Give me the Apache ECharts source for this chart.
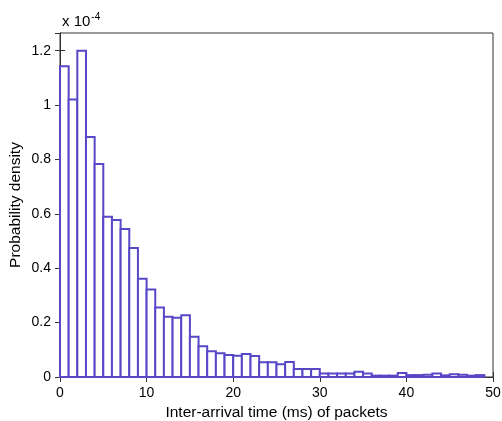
<!DOCTYPE html>
<html>
<head>
<meta charset="utf-8">
<script src="https://cdn.jsdelivr.net/npm/echarts@6/dist/echarts.min.js"></script>
<style>
  html, body { margin: 0; padding: 0; background: #fff; }
  #chart { width: 502px; height: 421px; }
</style>
</head>
<body>
<div id="chart"></div>
<script>
// bin edges (ms), one bin per 1 ms
const binStart = [0,1,2,3,4,5,6,7,8,9,10,11,12,13,14,15,16,17,18,19,20,21,22,23,24,
  25,26,27,28,29,30,31,32,33,34,35,36,37,38,39,40,41,42,43,44,45,46,47,48];
const binWidth = 1;
// probability density, in units of 1e-4
const density = [1.143, 1.02, 1.20, 0.883, 0.783, 0.589, 0.577, 0.544, 0.474, 0.361,
  0.322, 0.256, 0.222, 0.218, 0.227, 0.148, 0.113, 0.095, 0.087, 0.081,
  0.078, 0.085, 0.077, 0.054, 0.054, 0.047, 0.055, 0.029, 0.029, 0.029,
  0.013, 0.013, 0.013, 0.013, 0.019, 0.013, 0.005, 0.005, 0.005, 0.015,
  0.007, 0.007, 0.008, 0.013, 0.006, 0.010, 0.008, 0.005, 0.007];
const yTicks = [0, 0.2, 0.4, 0.6, 0.8, 1, 1.2];
const xTicks = [0, 10, 20, 30, 40, 50];

const barColor = "#5848c8";
const axisColor = "#333";
const font = "Liberation Sans, Arial, sans-serif";

const histData = binStart.map((s, i) => [s, s + binWidth, density[i]]);

// only label the round ticks, not the axis max
function yLabel(v) {
  const r = Math.round(v * 10) / 10;
  if (Math.abs(v - r) > 1e-6 || yTicks.indexOf(r) < 0) return "";
  return String(r);
}

const options = {
  animation: false,
  textStyle: { fontFamily: font },
  grid: {
    left: 60,
    right: 9,
    top: 33,
    bottom: 44,
    outerBoundsMode: "none",
    containLabel: false,
    show: true,
    borderColor: axisColor,
    borderWidth: 1
  },
  graphic: [
    {
      type: "text",
      left: 62,
      top: 12,
      style: {
        text: "x 10{sup|-4}",
        font: "15px " + font,
        fill: "#000",
        rich: {
          sup: { fontSize: 10, verticalAlign: "top", padding: [0, 0, 9, 1] }
        }
      }
    }
  ],
  xAxis: [
    {
      type: "value",
      min: xTicks[0],
      max: xTicks[xTicks.length - 1],
      interval: 10,
      name: "Inter-arrival time (ms) of packets",
      nameLocation: "middle",
      nameGap: 28,
      nameTextStyle: { fontSize: 15.5, color: "#000", fontFamily: font },
      axisLine: { show: true, lineStyle: { color: axisColor } },
      axisTick: { show: true, inside: true, length: 5, lineStyle: { color: axisColor } },
      axisLabel: { fontSize: 14, color: "#000", margin: 9, fontFamily: font },
      splitLine: { show: false }
    },
    {
      type: "value",
      position: "top",
      min: xTicks[0],
      max: xTicks[xTicks.length - 1],
      interval: 10,
      axisLine: { show: true, lineStyle: { color: axisColor } },
      axisTick: { show: true, inside: true, length: 5, lineStyle: { color: axisColor } },
      axisLabel: { show: false },
      splitLine: { show: false }
    }
  ],
  yAxis: [
    {
      type: "value",
      min: 0,
      max: 1.265,
      interval: 0.2,
      name: "Probability density",
      nameLocation: "middle",
      nameGap: 36,
      nameMoveOverlap: false,
      nameTextStyle: { fontSize: 15.5, color: "#000", fontFamily: font },
      axisLine: { show: true, lineStyle: { color: axisColor } },
      axisTick: { show: true, inside: true, length: 5, lineStyle: { color: axisColor } },
      axisLabel: {
        fontSize: 14,
        color: "#000",
        margin: 9,
        fontFamily: font,
        showMaxLabel: false,
        formatter: yLabel
      },
      splitLine: { show: false }
    },
    {
      type: "value",
      position: "right",
      min: 0,
      max: 1.265,
      interval: 0.2,
      axisLine: { show: true, lineStyle: { color: axisColor } },
      axisTick: { show: true, inside: true, length: 5, lineStyle: { color: axisColor } },
      axisLabel: { show: false },
      splitLine: { show: false }
    }
  ],
  series: [
    {
      type: "custom",
      xAxisIndex: 0,
      yAxisIndex: 0,
      data: histData,
      encode: { x: [0, 1], y: 2 },
      renderItem(params, api) {
        const p0 = api.coord([api.value(0), api.value(2)]);
        const p1 = api.coord([api.value(1), 0]);
        return {
          type: "rect",
          shape: { x: p0[0], y: p0[1], width: p1[0] - p0[0], height: p1[1] - p0[1] },
          style: { fill: "#fff", stroke: barColor, lineWidth: 2 }
        };
      }
    }
  ]
};

const chart = echarts.init(document.getElementById("chart"));
chart.setOption(options);
window.addEventListener("resize", () => chart.resize());
</script>
</body>
</html>
